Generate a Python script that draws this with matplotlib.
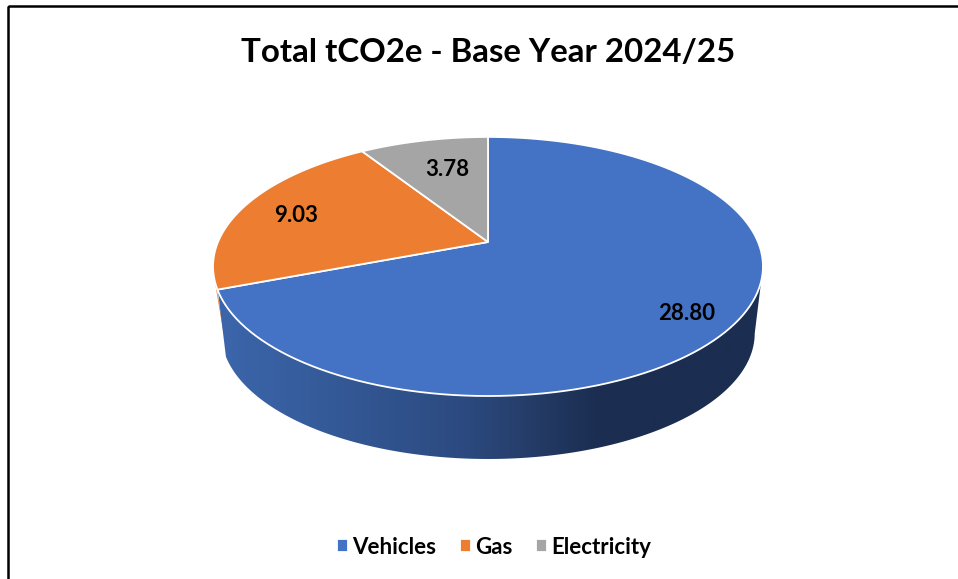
import numpy as np
import matplotlib
matplotlib.use("Agg")
import matplotlib.pyplot as plt
from matplotlib.colors import LinearSegmentedColormap
from matplotlib.patches import Polygon, Rectangle
from matplotlib.path import Path
from matplotlib.transforms import Affine2D, Transform

plt.rcParams["font.family"] = ["Lato", "DejaVu Sans"]

# Data
categories = ["Vehicles", "Gas", "Electricity"]
values = [28.80, 9.03, 3.78]
value_labels = ["28.80", "9.03", "3.78"]
colors = ["#4472C4", "#ED7D31", "#A5A5A5"]

W, H = 958, 579

# Pie tilt, in pixels of the figure
CX, CY = 488, 242
A, B, K = 270, 124.9, 0.189
DEPTH, BOTTOM_SCALE = 67.6, 0.97


class Tilt(Transform):
    # perspective view of the flat unit pie
    input_dims = 2
    output_dims = 2
    is_separable = False

    def transform_non_affine(self, xy):
        xy = np.asarray(xy, dtype=float)
        w = 1 + K * xy[:, 1]
        return np.column_stack([CX + A * xy[:, 0] / w, CY - B * xy[:, 1] / w])

    def transform_path_non_affine(self, path):
        # flatten the curves first, at a fine scale
        big = path.transformed(Affine2D().scale(1000))
        poly = big.to_polygons(closed_only=True)[0] / 1000
        return Path(self.transform_non_affine(poly), closed=True)


def side_polygon(theta1, theta2, depth=DEPTH):
    # wall of the pie between two angles (degrees, normal math direction)
    t = np.radians(np.linspace(theta1, theta2, 200))
    top = Tilt().transform_non_affine(np.column_stack([np.cos(t), np.sin(t)]))
    bottom = top.copy()
    bottom[:, 0] = CX + (top[:, 0] - CX) * BOTTOM_SCALE
    bottom[:, 1] = CY + depth + (top[:, 1] - CY) * BOTTOM_SCALE
    return np.vstack([top, bottom[::-1]])


fig = plt.figure(figsize=(W / 100, H / 100), dpi=100, facecolor="white")
ax = fig.add_axes([0, 0, 1, 1])

wedges, _ = ax.pie(
    values,
    colors=colors,
    startangle=90,
    counterclock=False,
    wedgeprops={"edgecolor": "white", "linewidth": 1.3, "zorder": 5},
)
ax.set_aspect("auto")
tilt = Tilt() + ax.transData
for w in wedges:
    w.set_transform(tilt)

# Outer wall: blue runs from the right tangent round to the end of its slice
blue_end = wedges[0].theta1
gas_side = Polygon(
    side_polygon(blue_end - 4, blue_end - 1.2, depth=50), closed=True,
    facecolor=colors[1], edgecolor="none", zorder=2,
)
ax.add_patch(gas_side)

blue_pts = side_polygon(blue_end + 0.4, -11)
blue_side = Polygon(blue_pts, closed=True, facecolor="none", edgecolor="none", zorder=2)
ax.add_patch(blue_side)
wall_cmap = LinearSegmentedColormap.from_list(
    "wall",
    [(0.0, "#3C66AC"), (0.2, "#345A98"), (0.45, "#2C4A80"), (0.55, "#263F6C"), (0.7, "#1B2D50"), (1.0, "#1B2D50")],
)
wall = ax.imshow(
    np.linspace(0, 1, 512).reshape(1, -1),
    cmap=wall_cmap,
    aspect="auto",
    extent=[blue_pts[:, 0].min(), blue_pts[:, 0].max(), blue_pts[:, 1].max(), blue_pts[:, 1].min()],
    zorder=2,
)
wall.set_clip_path(blue_side)

ax.set_xlim(0, W)
ax.set_ylim(H, 0)
ax.set_axis_off()

# Frame: only top and left edges fall inside the crop
ax.add_patch(Rectangle((8, 6), W + 10, H + 10, fill=False, edgecolor="black", linewidth=1.8, zorder=6))

ax.text(488, 52, "Total tCO2e - Base Year 2024/25", ha="center", va="center",
        fontsize=23.8, fontweight="bold", color="black", zorder=7)

label_pos = [(687, 313), (296, 216), (447, 169)]
for txt, (x, y) in zip(value_labels, label_pos):
    ax.text(x, y, txt, ha="center", va="center", fontsize=16, fontweight="bold", color="black", zorder=7)

ax.legend(
    wedges, categories,
    loc="center", bbox_to_anchor=(494 / W, 1 - 547 / H), ncol=3, frameon=False,
    prop={"size": 16, "weight": "bold"},
    handlelength=0.5, handleheight=0.5, handletextpad=0.2, columnspacing=1.05,
)

plt.savefig("out.png", dpi=100)
